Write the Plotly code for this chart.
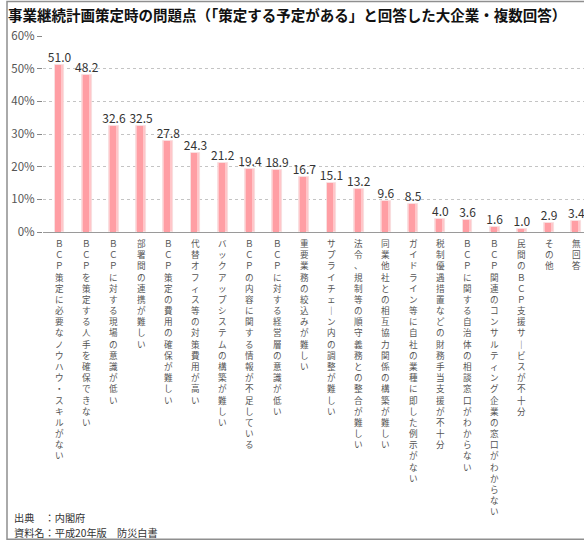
import plotly.graph_objects as go

# Survey items (vertical labels) and share of respondents (%)
categories = [
    "ＢＣＰ策定に必要なノウハウ・スキルがない",
    "ＢＣＰを策定する人手を確保できない",
    "ＢＣＰに対する現場の意識が低い",
    "部署間の連携が難しい",
    "ＢＣＰ策定の費用の確保が難しい",
    "代替オフィス等の対策費用が高い",
    "バックアップシステムの構築が難しい",
    "ＢＣＰの内容に関する情報が不足している",
    "ＢＣＰに対する経営層の意識が低い",
    "重要業務の絞込みが難しい",
    "サプライチェーン内の調整が難しい",
    "法令、規制等の順守義務との整合が難しい",
    "同業他社との相互協力関係の構築が難しい",
    "ガイドライン等に自社の業種に即した例示がない",
    "税制優遇措置などの財務手当支援が不十分",
    "ＢＣＰに関する自治体の相談窓口がわからない",
    "ＢＣＰ関連のコンサルティング企業の窓口がわからない",
    "民間のＢＣＰ支援サービスが不十分",
    "その他",
    "無回答",
]
values = [51.0, 48.2, 32.6, 32.5, 27.8, 24.3, 21.2, 19.4, 18.9, 16.7,
          15.1, 13.2, 9.6, 8.5, 4.0, 3.6, 1.6, 1.0, 2.9, 3.4]
y_ticks = [0, 10, 20, 30, 40, 50, 60]

title_text = "事業継続計画策定時の問題点（「策定する予定がある」と回答した大企業・複数回答）"
source_lines = ["出典　：内閣府", "資料名：平成20年版　防災白書"]

FONT = "Noto Sans CJK JP"
W, H = 584, 541
L, R, T, B = 43, 0, 35.6, 309.3
PW, PH = W - L - R, H - T - B
BOTTOM_PX = H - B


def px_x(p):
    return (p - L) / PW


def px_y(p):
    return (BOTTOM_PX - p) / PH


def vertical(text):
    # stack glyphs top to bottom; long-vowel mark turns upright in vertical text
    return "<br>".join("｜" if ch == "ー" else ch for ch in text)


x = list(range(len(values)))

fig = go.Figure()
# light outer body of each bar
fig.add_trace(go.Bar(
    x=x, y=values, width=0.36, offset=-0.18,
    marker=dict(color="#ffc6c9", line=dict(color="#f6dcdd", width=0.8)),
    hoverinfo="skip", showlegend=False,
))
# deeper pink core for the shaded look
fig.add_trace(go.Bar(
    x=x, y=values, width=0.22, offset=-0.15,
    marker=dict(color="#ff9ea4", line=dict(width=0)),
    hoverinfo="skip", showlegend=False,
))
# value labels
fig.add_trace(go.Scatter(
    x=x, y=values, mode="text",
    text=[f"{v:.1f}" for v in values],
    textposition="top center",
    textfont=dict(family=FONT, size=12, color="#333333"),
    cliponaxis=False, hoverinfo="skip", showlegend=False,
))

annotations = []

# vertical category labels
for i, label in enumerate(categories):
    annotations.append(dict(
        x=i, xref="x", y=0, yref="paper",
        yanchor="top", xanchor="center", align="center",
        yshift=-4, borderpad=0,
        text=vertical(label), showarrow=False,
        font=dict(family=FONT, size=8.6, color="#555555"),
    ))

# title
annotations.append(dict(
    x=px_x(6), xref="paper", y=px_y(14), yref="paper",
    xanchor="left", yanchor="middle", showarrow=False,
    text="<b>" + title_text + "</b>",
    font=dict(family=FONT, size=14.5, color="#111111"),
))

# source notes
for line, ypix in zip(source_lines, [517, 532]):
    annotations.append(dict(
        x=px_x(13), xref="paper", y=px_y(ypix), yref="paper",
        xanchor="left", yanchor="middle", align="left", showarrow=False,
        borderpad=0, text=line,
        font=dict(family=FONT, size=10.2, color="#333333"),
    ))

# surrounding frame
shapes = [dict(
    type="rect", xref="paper", yref="paper",
    x0=px_x(7), x1=px_x(W + 10), y0=px_y(539), y1=px_y(1),
    line=dict(color="#8f8f8f", width=1.5), fillcolor="rgba(0,0,0,0)",
    layer="below",
)]

fig.update_layout(
    width=W, height=H,
    margin=dict(l=L, r=R, t=T, b=B, pad=0),
    paper_bgcolor="white", plot_bgcolor="white",
    barmode="overlay", bargap=0,
    annotations=annotations, shapes=shapes,
    showlegend=False,
    xaxis=dict(
        range=[(L - 59.5) / 27.2, (W - 59.5) / 27.2],
        showticklabels=False, ticks="", showgrid=False, zeroline=False,
        showline=True, linecolor="#9a9a9a", linewidth=1,
        fixedrange=True,
    ),
    yaxis=dict(
        range=[0, 60], tickvals=y_ticks, ticktext=[f"{t}%" for t in y_ticks],
        ticks="outside", ticklen=5, tickcolor="#888888",
        tickfont=dict(family=FONT, size=11.5, color="#555555"),
        showgrid=True, gridcolor="#c4c4c4", griddash="dot", gridwidth=1,
        zeroline=False, showline=False, fixedrange=True,
    ),
)

fig.write_html("out.html")
